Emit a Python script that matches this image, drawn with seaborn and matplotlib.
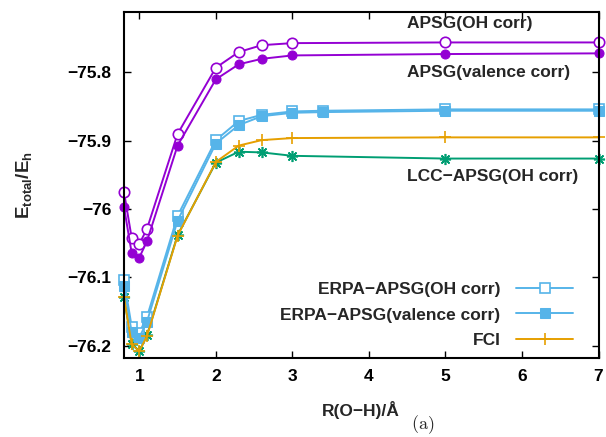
import matplotlib
matplotlib.use("Agg")
import matplotlib.pyplot as plt
import numpy as np
import pandas as pd
import seaborn as sns

# ---- data ----
r_main = [0.8, 0.9, 1.0, 1.1, 1.5, 2.0, 2.3, 2.6, 3.0, 5.0, 7.0]
r_erpa = [0.8, 0.9, 1.0, 1.1, 1.5, 2.0, 2.3, 2.6, 3.0, 3.4, 5.0, 7.0]

apsg_oh = [-75.975, -76.042, -76.051, -76.029, -75.890, -75.793, -75.770, -75.760, -75.757, -75.756, -75.756]
apsg_val = [-75.997, -76.064, -76.071, -76.047, -75.907, -75.810, -75.788, -75.780, -75.775, -75.773, -75.772]
erpa_oh = [-76.104, -76.172, -76.181, -76.158, -76.010, -75.899, -75.871, -75.862, -75.857, -75.856, -75.854, -75.854]
erpa_val = [-76.113, -76.180, -76.188, -76.165, -76.017, -75.904, -75.877, -75.864, -75.859, -75.858, -75.856, -75.856]
fci = [-76.129, -76.198, -76.208, -76.186, -76.039, -75.931, -75.907, -75.899, -75.896, -75.895, -75.895]
lcc = [-76.129, -76.197, -76.208, -76.185, -76.038, -75.932, -75.916, -75.917, -75.922, -75.926, -75.926]

xticks = [1, 2, 3, 4, 5, 6, 7]
xtick_labels = ["1", "2", "3", "4", "5", "6", "7"]
yticks = [-76.2, -76.1, -76.0, -75.9, -75.8]
ytick_labels = ["\u221276.2", "\u221276.1", "\u221276", "\u221275.9", "\u221275.8"]

label_apsg_oh = "APSG(OH corr)"
label_apsg_val = "APSG(valence corr)"
label_lcc = "LCC\u2212APSG(OH corr)"
label_erpa_oh = "ERPA\u2212APSG(OH corr)"
label_erpa_val = "ERPA\u2212APSG(valence corr)"
label_fci = "FCI"

# ---- style ----
sns.set_style("ticks")
plt.rcParams["font.family"] = ["Liberation Sans", "DejaVu Sans"]
plt.rcParams["font.weight"] = "bold"
plt.rcParams["mathtext.fontset"] = "custom"
plt.rcParams["mathtext.rm"] = "Liberation Sans:bold"
plt.rcParams["mathtext.bf"] = "Liberation Sans:bold"
plt.rcParams["mathtext.it"] = "Liberation Sans:bold"

FS = 12.5
PURPLE = "#9400D3"
BLUE = "#56B4E9"
ORANGE = "#E69F00"
GREEN = "#009E73"

fig = plt.figure(figsize=(6.06, 4.37), dpi=100)
ax = fig.add_axes([124 / 606, 1 - 358 / 437, (598.5 - 124) / 606, (358 - 11.7) / 437])

lw = 1.4
common = dict(ax=ax, lw=lw, clip_on=False)
sns.lineplot(x=r_main, y=apsg_oh, color=PURPLE, marker="o", ms=7.5,
             mfc="white", mec=PURPLE, mew=1.2, legend=False, **common)
sns.lineplot(x=r_main, y=apsg_val, color=PURPLE, marker="o", ms=6.5,
             mfc=PURPLE, mec=PURPLE, legend=False, **common)
sns.lineplot(x=r_main, y=lcc, color=GREEN, marker=(8, 2, 0), ms=8,
             mec=GREEN, mew=1.2, legend=False, **common)
sns.lineplot(x=r_erpa, y=erpa_oh, color=BLUE, marker="s", ms=6.5,
             mfc="white", mec=BLUE, mew=1.2, label=label_erpa_oh, **common)
sns.lineplot(x=r_erpa, y=erpa_val, color=BLUE, marker="s", ms=6.5,
             mfc=BLUE, mec=BLUE, label=label_erpa_val, **common)
sns.lineplot(x=r_main, y=fci, color=ORANGE, marker="+", ms=9,
             mec=ORANGE, mew=1.2, label=label_fci, **common)

ax.set_xlim(0.8, 7.0)
ax.set_ylim(-76.218, -75.711)
ax.set_xticks(xticks)
ax.set_xticklabels(xtick_labels, fontsize=FS, fontweight="bold")
ax.set_yticks(yticks)
ax.set_yticklabels(ytick_labels, fontsize=FS, fontweight="bold")
ax.tick_params(direction="in", length=5, width=1, top=True, right=True, pad=8,
               colors="black")
ax.tick_params(axis="y", pad=9)
for s in ax.spines.values():
    s.set_linewidth(1.5)
    s.set_color("black")
    s.set_zorder(5)

ax.set_xlabel("R(O\u2212H)/\u00c5", fontsize=FS, fontweight="bold")
ax.xaxis.set_label_coords(0.5, -0.125)
ax.set_ylabel(r"$\mathbf{E_{total}/E_h}$", fontsize=FS + 1)
ax.yaxis.set_label_coords(-0.19, 0.5)

ax.text(4.5, -75.729, label_apsg_oh, fontsize=FS, fontweight="bold", ha="left", va="center")
ax.text(4.5, -75.800, label_apsg_val, fontsize=FS, fontweight="bold", ha="left", va="center")
ax.text(4.5, -75.953, label_lcc, fontsize=FS, fontweight="bold", ha="left", va="center")

fig.text(423 / 606, 1 - 425 / 437, r"$\mathrm{(a)}$", fontsize=13, ha="center", va="center",
         math_fontfamily="cm")

leg = ax.legend(loc="lower right", bbox_to_anchor=(0.967, 0.0), markerfirst=False,
                frameon=False, fontsize=FS, handlelength=3.3, handletextpad=0.9,
                labelspacing=0.62, borderaxespad=0.15)
for t in leg.get_texts():
    t.set_fontweight("bold")

fig.savefig("out.png", dpi=100)
